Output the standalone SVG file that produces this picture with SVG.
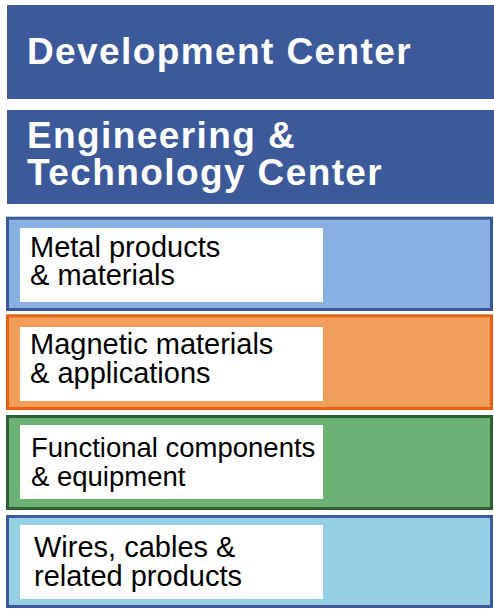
<svg xmlns="http://www.w3.org/2000/svg" width="494" height="609" viewBox="0 0 494 609">
  <style>
    .head { fill: #3C5A9A; }
    .head-text { font-family: "Liberation Sans", Arial, sans-serif; font-weight: bold; font-size: 37px; letter-spacing: 1.4px; fill: #FFFFFF; }
    .card { stroke-width: 3; }
    .label-bg { fill: #FFFFFF; }
    .label { font-family: "Liberation Sans", Arial, sans-serif; font-size: 29px; fill: #000000; }
    .label-narrow { font-size: 27.5px; }
  </style>

  <rect width="494" height="609" fill="#FFFFFF"/>

  <g id="development-center">
    <rect class="head" x="7" y="5" width="487" height="94"/>
    <text class="head-text" x="27" y="64">Development Center</text>
  </g>

  <g id="engineering-technology-center">
    <rect class="head" x="7" y="110" width="487" height="94"/>
    <text class="head-text" x="27" y="148">Engineering &amp;</text>
    <text class="head-text" x="27" y="185">Technology Center</text>
  </g>

  <g id="metal-products">
    <rect class="card" x="7.5" y="218.2" width="484" height="91.3" fill="#88B1E2" stroke="#3B5998"/>
    <rect class="label-bg" x="20" y="228" width="303" height="74"/>
    <text class="label" x="30" y="257">Metal products</text>
    <text class="label" x="30" y="285">&amp; materials</text>
  </g>

  <g id="magnetic-materials">
    <rect class="card" x="7.5" y="315.8" width="484" height="92.7" fill="#F19E5A" stroke="#E3610E"/>
    <rect class="label-bg" x="20" y="327" width="303" height="74"/>
    <text class="label" x="30" y="354">Magnetic materials</text>
    <text class="label" x="30" y="383">&amp; applications</text>
  </g>

  <g id="functional-components">
    <rect class="card" x="7.5" y="416.5" width="484" height="92" fill="#6CB274" stroke="#2E5F35"/>
    <rect class="label-bg" x="20" y="425" width="303" height="74"/>
    <text class="label label-narrow" x="31" y="457">Functional components</text>
    <text class="label label-narrow" x="31" y="486">&amp; equipment</text>
  </g>

  <g id="wires-cables">
    <rect class="card" x="7.5" y="516.5" width="484" height="90" fill="#96D0E5" stroke="#3B5A9A"/>
    <rect class="label-bg" x="20" y="525" width="303" height="74"/>
    <text class="label" x="34" y="557">Wires, cables &amp;</text>
    <text class="label" x="34" y="586">related products</text>
  </g>

  <g id="connectors"/>
</svg>
